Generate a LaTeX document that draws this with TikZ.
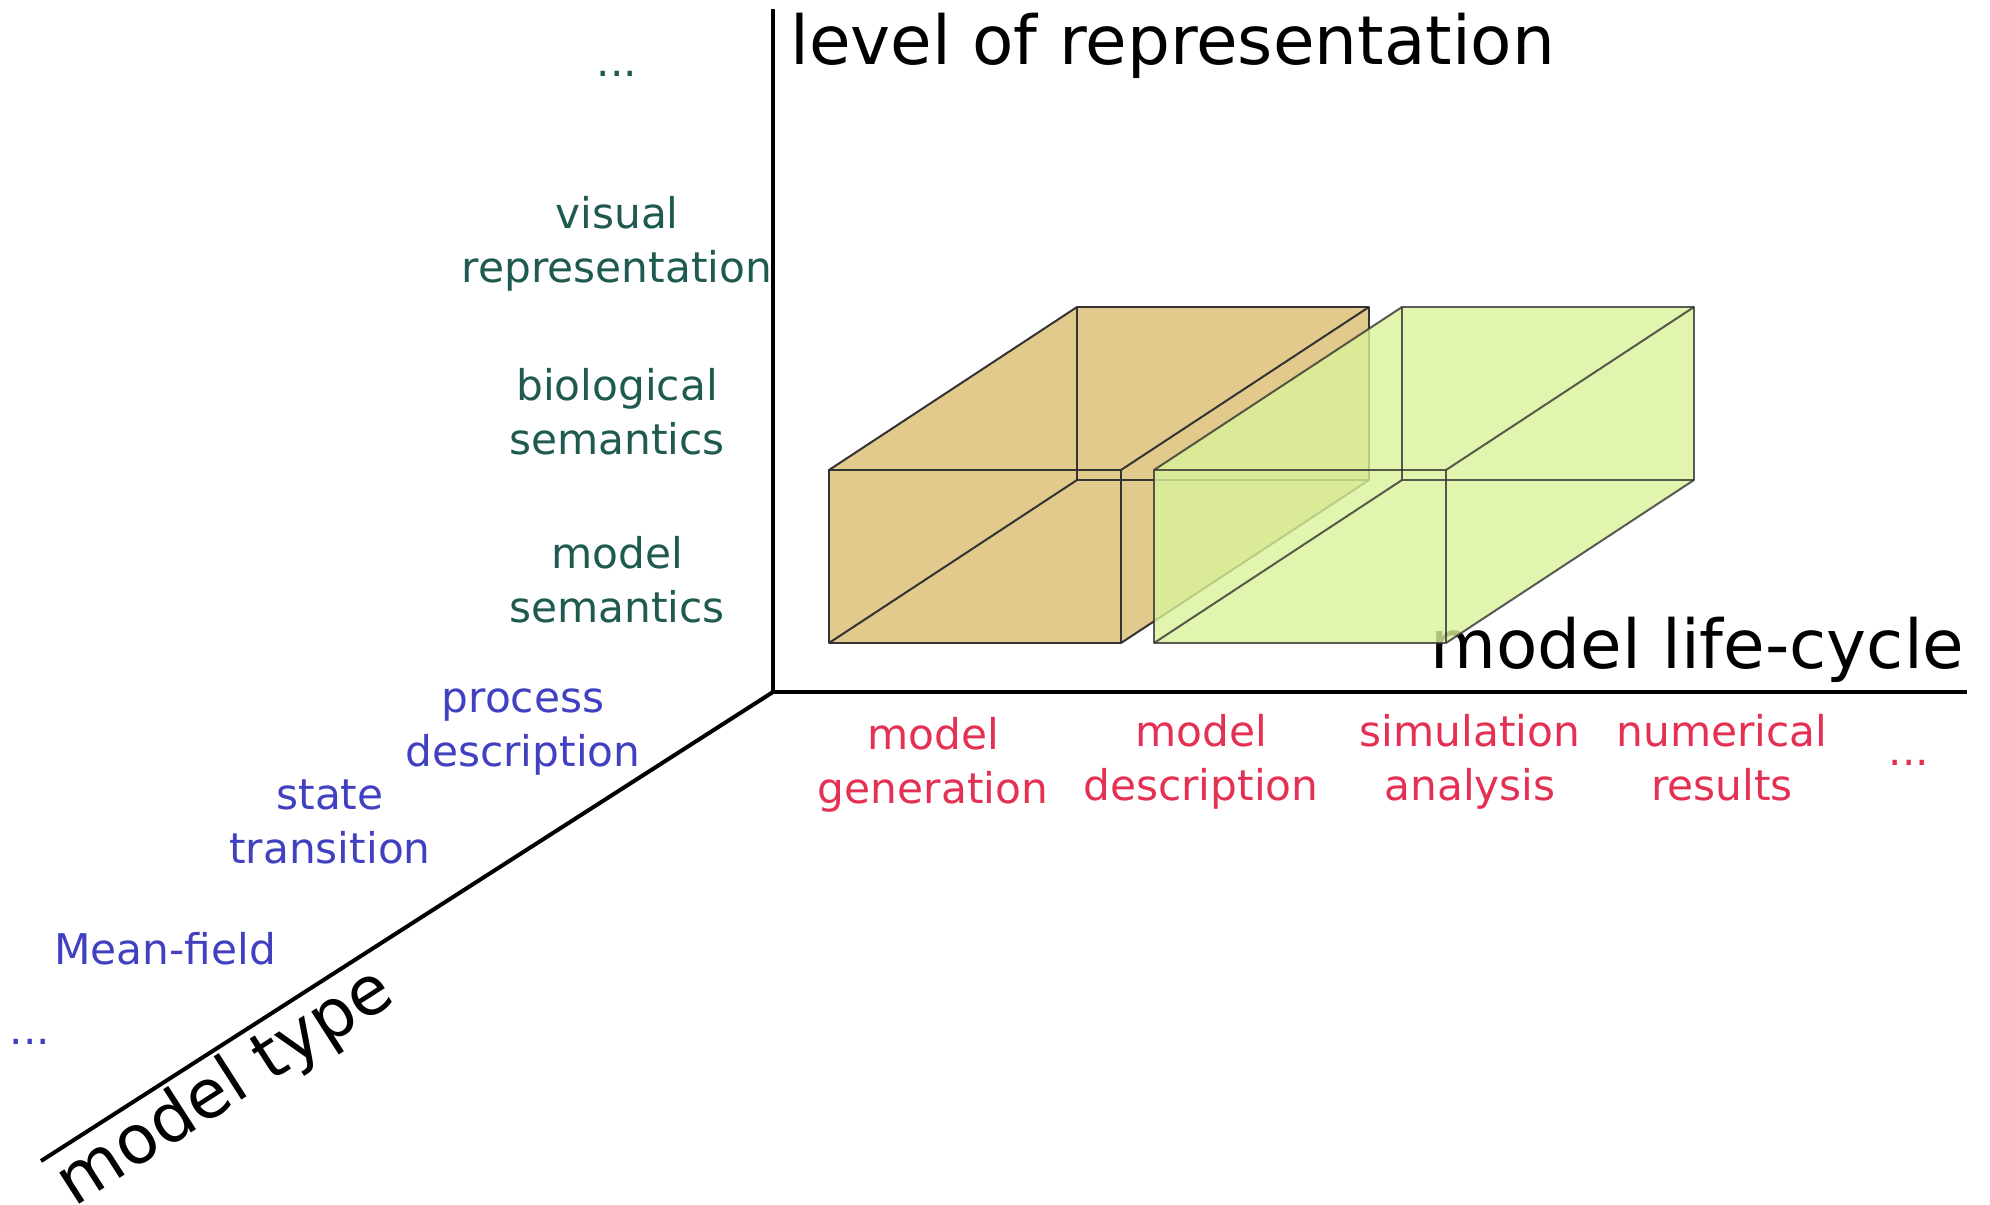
\documentclass[tikz,border=0pt]{standalone}
\usepackage{fontspec}
\setmainfont{DejaVu Sans}
\definecolor{levelcol}{RGB}{30,90,80}
\definecolor{typecol}{RGB}{64,64,192}
\definecolor{cyclecol}{RGB}{228,48,82}
\definecolor{tanbox}{RGB}{226,201,140}
\definecolor{limebox}{RGB}{218,243,154}
\begin{document}
\begin{tikzpicture}[x=0.5pt,y=-0.5pt,
  axisline/.style={line width=2pt},
  axistitle/.style={font=\fontsize{33.8}{40}\selectfont, inner sep=0pt},
  tick/.style={font=\fontsize{21.15}{26.65}\selectfont, align=center, inner sep=0pt, anchor=base},
  leveltick/.style={tick, text=levelcol},
  typetick/.style={tick, text=typecol},
  cycletick/.style={tick, text=cyclecol},
  boxedge/.style={draw=black!80, line width=1pt, line join=round}]
\useasboundingbox (0,0) rectangle (1990,1204);

% axes
\coordinate (origin) at (773,692);
\coordinate (upend) at (773,9);
\coordinate (rightend) at (1967,692);
\coordinate (diagend) at (41,1161);
\draw[axisline] (upend) -- (origin) -- (rightend);
\draw[axisline] (origin) -- (diagend);

% axis titles
\node[axistitle, anchor=base west] (ttlLevel) at (790,65) {level of representation};
\node[axistitle, anchor=base west] (ttlCycle) at (1430,668) {model life-cycle};
\node[axistitle, anchor=base, rotate=32.67] (ttlType) at (236,1104) {model type};

% level of representation (base anchor sits on the last line)
\node[leveltick] (lvDots) at (617,77) {...};
\node[leveltick] (lvVisual) at (617,282) {visual\\representation};
\node[leveltick] (lvBio) at (617,454) {biological\\semantics};
\node[leveltick] (lvModel) at (617,622) {model\\semantics};

% model type
\node[typetick] (tpProcess) at (523,766) {process\\description};
\node[typetick] (tpState) at (330,863) {state\\transition};
\node[typetick] (tpMean) at (165,964) {Mean-field};
\node[typetick] (tpDots) at (30,1044) {...};

% model life-cycle
\node[cycletick] (cyGen) at (933,803) {model\\generation};
\node[cycletick] (cyDesc) at (1201,800) {model\\description};
\node[cycletick] (cySim) at (1470,800) {simulation\\analysis};
\node[cycletick] (cyNum) at (1722,800) {numerical\\results};
\node[cycletick] (cyDots) at (1909,765) {...};

% first block
\coordinate (aFBL) at (829,643);
\coordinate (aFBR) at (1121,643);
\coordinate (aFTR) at (1121,470);
\coordinate (aFTL) at (829,470);
\coordinate (aBBL) at (1077,480);
\coordinate (aBBR) at (1369,480);
\coordinate (aBTR) at (1369,307);
\coordinate (aBTL) at (1077,307);
\fill[tanbox] (aFBL) -- (aFBR) -- (aBBR) -- (aBTR) -- (aBTL) -- (aFTL) -- cycle;
\draw[boxedge] (aFBL) -- (aFBR) -- (aFTR) -- (aFTL) -- cycle;
\draw[boxedge] (aBBL) -- (aBBR) -- (aBTR) -- (aBTL) -- cycle;
\draw[boxedge] (aFBL) -- (aBBL) (aFBR) -- (aBBR) (aFTR) -- (aBTR) (aFTL) -- (aBTL);

% second block
\coordinate (bFBL) at (1154,643);
\coordinate (bFBR) at (1446,643);
\coordinate (bFTR) at (1446,470);
\coordinate (bFTL) at (1154,470);
\coordinate (bBBL) at (1402,480);
\coordinate (bBBR) at (1694,480);
\coordinate (bBTR) at (1694,307);
\coordinate (bBTL) at (1402,307);
\fill[limebox, fill opacity=0.8] (bFBL) -- (bFBR) -- (bBBR) -- (bBTR) -- (bBTL) -- (bFTL) -- cycle;
\draw[boxedge, draw opacity=0.8] (bFBL) -- (bFBR) -- (bFTR) -- (bFTL) -- cycle;
\draw[boxedge, draw opacity=0.8] (bBBL) -- (bBBR) -- (bBTR) -- (bBTL) -- cycle;
\draw[boxedge, draw opacity=0.8] (bFBL) -- (bBBL) (bFBR) -- (bBBR) (bFTR) -- (bBTR) (bFTL) -- (bBTL);
\end{tikzpicture}
\end{document}
